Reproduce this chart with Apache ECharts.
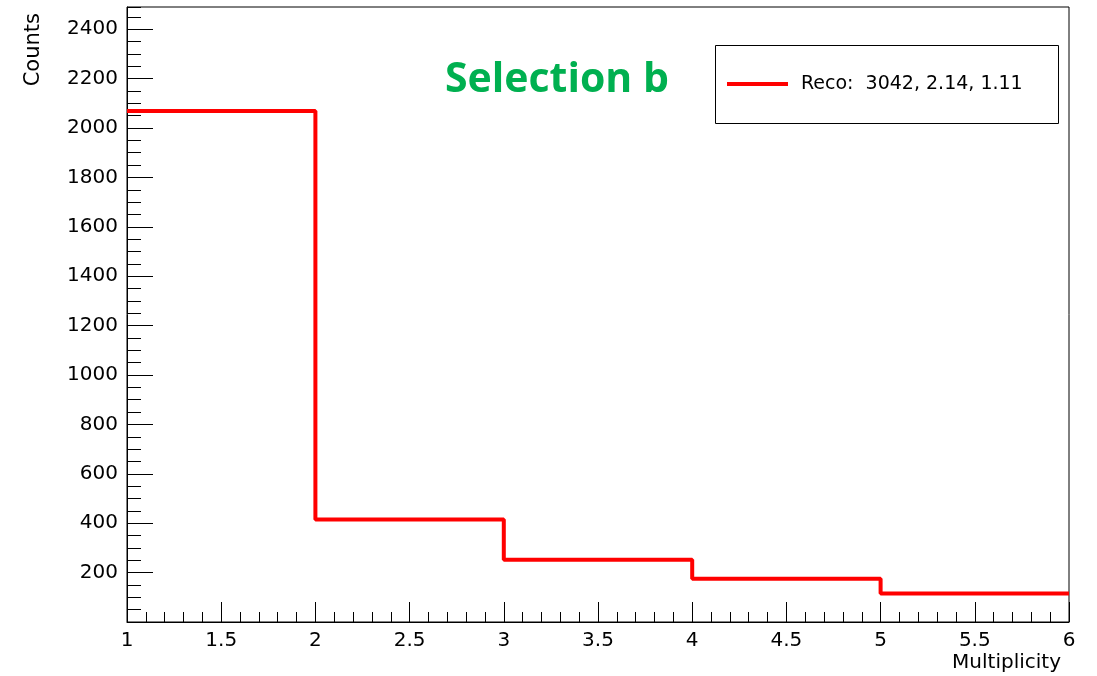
<!DOCTYPE html>
<html>
<head>
<meta charset="utf-8">
<script src="https://cdn.jsdelivr.net/npm/echarts@6/dist/echarts.min.js"></script>
<style>
html,body{margin:0;padding:0;background:#fff;}
#chart{width:1097px;height:676px;}
</style>
</head>
<body>
<div id="chart"></div>
<script>
// Histogram bin edges (Multiplicity) and counts
var binEdges = [1, 2, 3, 4, 5, 6];
var binCounts = [2069, 415, 252, 175, 115];
var xRange = [1, 6];
var yRange = [0, 2490];
var xTitle = 'Multiplicity';
var yTitle = 'Counts';
var plotTitle = 'Selection b';
var legendName = 'Reco:';
var legendStats = ['3042', '2.14', '1.11'];

// step data: each bin's left edge with its count, then closing point at last edge
var stepData = [];
for (var i = 0; i < binCounts.length; i++) stepData.push([binEdges[i], binCounts[i]]);
stepData.push([binEdges[binEdges.length - 1], binCounts[binCounts.length - 1]]);

var FONT = 'DejaVu Sans';
var chart = echarts.init(document.getElementById('chart'), null, {renderer: 'canvas'});
var gridPos = {left: 127, right: 28, top: 7, bottom: 54};

chart.setOption({
  animation: false,
  backgroundColor: '#fff',
  grid: Object.assign({show: true, borderColor: '#000', borderWidth: 1, backgroundColor: 'transparent'}, gridPos),
  xAxis: [
    {type: 'value', min: xRange[0], max: xRange[1], interval: 0.5,
     axisLine: {show: true, onZero: false, lineStyle: {color: '#000', width: 1}},
     axisTick: {show: true, inside: true, length: 20, lineStyle: {color: '#000', width: 1}},
     axisLabel: {color: '#000', fontFamily: FONT, fontSize: 20, margin: 9,
       formatter: function (v) { return String(Math.round(v * 10) / 10); }},
     splitLine: {show: false}},
    {type: 'value', min: xRange[0], max: xRange[1], interval: 0.1, position: 'bottom',
     axisLine: {show: false},
     axisTick: {show: true, inside: true, length: 10, lineStyle: {color: '#000', width: 1}},
     axisLabel: {show: false}, splitLine: {show: false}}
  ],
  yAxis: [
    {type: 'value', min: yRange[0], max: yRange[1], interval: 200,
     axisLine: {show: true, onZero: false, lineStyle: {color: '#000', width: 1}},
     axisTick: {show: true, inside: true, length: 26, lineStyle: {color: '#000', width: 1}},
     axisLabel: {color: '#000', fontFamily: FONT, fontSize: 20, margin: 9,
       showMinLabel: false, showMaxLabel: false,
       formatter: function (v) { return (v % 200 === 0 && v > 0) ? String(v) : ''; }},
     splitLine: {show: false}},
    {type: 'value', min: yRange[0], max: yRange[1], interval: 50, position: 'left',
     axisLine: {show: false},
     axisTick: {show: true, inside: true, length: 14, lineStyle: {color: '#000', width: 1}},
     axisLabel: {show: false}, splitLine: {show: false}}
  ],
  series: [{
    type: 'line', step: 'end', data: stepData, showSymbol: false, symbol: 'none',
    xAxisIndex: 0, yAxisIndex: 0,
    lineStyle: {color: '#ff0000', width: 4}, z: 5
  }],
  graphic: [
    {type: 'text', x: 34, y: 13, rotation: Math.PI / 2,
     style: {text: yTitle, font: '21px "' + FONT + '"', fill: '#000', align: 'right', verticalAlign: 'middle'}},
    {type: 'text', x: 1061, y: 663,
     style: {text: xTitle, font: '20px "' + FONT + '"', fill: '#000', align: 'right', verticalAlign: 'middle'}},
    {type: 'text', x: 445, y: 80,
     style: {text: plotTitle, font: 'bold 41px "Open Sans"', fill: '#00b050', align: 'left', verticalAlign: 'middle'}},
    {type: 'rect', shape: {x: 715.5, y: 45.5, width: 343, height: 78},
     style: {fill: '#fff', stroke: '#000', lineWidth: 1}, z: 10},
    {type: 'line', shape: {x1: 727, y1: 84, x2: 788, y2: 84},
     style: {stroke: '#ff0000', lineWidth: 4}, z: 11},
    {type: 'text', x: 801, y: 84, z: 11,
     style: {text: legendName + '  ' + legendStats.join(', '), font: '19px "' + FONT + '"', fill: '#000', align: 'left', verticalAlign: 'middle'}}
  ]
});
</script>
</body>
</html>
